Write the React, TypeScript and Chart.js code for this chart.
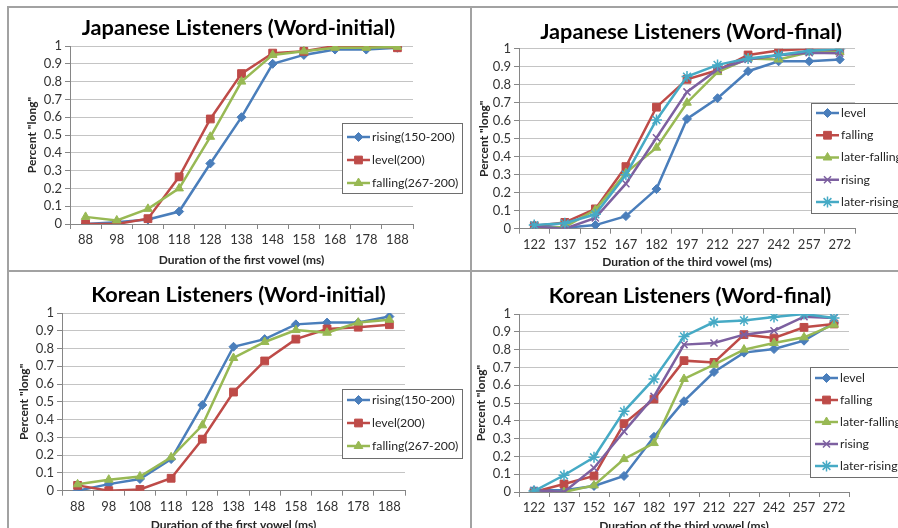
import React, { useEffect, useRef } from 'react';
import { Chart, registerables } from 'chart.js';
import { drawPoint } from 'chart.js/helpers';

Chart.register(...registerables);

const FONT = "Lato, 'Open Sans', sans-serif";

// ---------- categories ----------
const firstVowelDurations = ['88', '98', '108', '118', '128', '138', '148', '158', '168', '178', '188'];
const thirdVowelDurations = ['122', '137', '152', '167', '182', '197', '212', '227', '242', '257', '272'];

// ---------- series names ----------
const initialSeriesNames = ['rising(150-200)', 'level(200)', 'falling(267-200)'];
const finalSeriesNames = ['level', 'falling', 'later-falling', 'rising', 'later-rising'];

// ---------- Japanese listeners, word-initial ----------
const jpInitRising = [0, 0.01, 0.025, 0.07, 0.34, 0.6, 0.9, 0.95, 0.98, 0.98, 0.99];
const jpInitLevel = [0, 0, 0.03, 0.265, 0.59, 0.845, 0.96, 0.97, 1, 1, 0.99];
const jpInitFalling = [0.04, 0.02, 0.085, 0.2, 0.49, 0.8, 0.95, 0.97, 0.99, 0.99, 0.995];

// ---------- Japanese listeners, word-final ----------
const jpFinalLevel = [0.02, 0.005, 0.02, 0.07, 0.22, 0.61, 0.725, 0.875, 0.93, 0.93, 0.94];
const jpFinalFalling = [0.015, 0.035, 0.11, 0.345, 0.675, 0.83, 0.88, 0.965, 0.99, 1.0, 0.99];
const jpFinalLaterFalling = [0, 0.01, 0.105, 0.31, 0.45, 0.7, 0.87, 0.945, 0.94, 0.98, 0.98];
const jpFinalRising = [0.01, 0, 0.06, 0.25, 0.505, 0.76, 0.885, 0.94, 0.963, 0.978, 0.975];
const jpFinalLaterRising = [0.02, 0.03, 0.08, 0.3, 0.604, 0.845, 0.91, 0.946, 0.965, 0.988, 1.0];

// ---------- Korean listeners, word-initial ----------
const krInitRising = [0, 0.037, 0.066, 0.178, 0.482, 0.81, 0.853, 0.936, 0.946, 0.946, 0.98];
const krInitLevel = [0.03, 0, 0.007, 0.07, 0.29, 0.555, 0.73, 0.853, 0.91, 0.92, 0.934];
const krInitFalling = [0.036, 0.062, 0.08, 0.188, 0.368, 0.747, 0.837, 0.904, 0.889, 0.946, 0.962];

// ---------- Korean listeners, word-final ----------
const krFinalLevel = [0.01, 0.01, 0.034, 0.09, 0.31, 0.51, 0.674, 0.783, 0.803, 0.85, 0.95];
const krFinalFalling = [0, 0.045, 0.09, 0.384, 0.522, 0.738, 0.728, 0.884, 0.865, 0.925, 0.944];
const krFinalLaterFalling = [0, 0, 0.037, 0.185, 0.275, 0.635, 0.715, 0.8, 0.837, 0.869, 0.94];
const krFinalRising = [0.01, 0, 0.135, 0.34, 0.537, 0.828, 0.837, 0.884, 0.906, 0.985, 0.978];
const krFinalLaterRising = [0.005, 0.094, 0.195, 0.453, 0.635, 0.874, 0.955, 0.964, 0.983, 1.0, 0.978];

// ---------- axis texts ----------
const yAxisTitle = 'Percent "long"';
const xTitleFirst = 'Duration of the first vowel (ms)';
const xTitleThird = 'Duration of the third vowel (ms)';

// ---------- styles ----------
const BLUE = { color: '#4A7EBB', marker: 'rectRot', radius: 4.5, bw: 1 };
const RED = { color: '#BE4B48', marker: 'rect', radius: 5.5, bw: 1 };
const GREEN = { color: '#98B954', marker: 'triangle', radius: 5, bw: 1 };
const PURPLE = { color: '#7D60A0', marker: 'crossRot', radius: 5, bw: 1.5 };
const CYAN = { color: '#46AAC5', marker: 'star', radius: 5.5, bw: 1.5 };

const initialStyles = [BLUE, RED, GREEN];
const finalStyles = [BLUE, RED, GREEN, PURPLE, CYAN];

const panels = [
  {
    key: 'jpInit',
    title: 'Japanese Listeners (Word-initial)',
    xTitle: xTitleFirst,
    labels: firstVowelDurations,
    names: initialSeriesNames,
    values: [jpInitRising, jpInitLevel, jpInitFalling],
    styles: initialStyles,
    box: { x: 9, y: 8, w: 459, h: 262 },
    area: { l: 70, r: 413, t: 46, b: 224 },
    titleY: 28, xTitleY: 260, yTitleX: 32,
    legend: { x: 342, y: 123, w: 120, h: 70, first: 14, gap: 23 },
  },
  {
    key: 'jpFinal',
    title: 'Japanese Listeners (Word-final)',
    xTitle: xTitleThird,
    labels: thirdVowelDurations,
    names: finalSeriesNames,
    values: [jpFinalLevel, jpFinalFalling, jpFinalLaterFalling, jpFinalRising, jpFinalLaterRising],
    styles: finalStyles,
    box: { x: 472, y: 8, w: 438, h: 262 },
    area: { l: 519, r: 855, t: 48.7, b: 228.7 },
    titleY: 32, xTitleY: 262, yTitleX: 484,
    legend: { x: 811, y: 103, w: 100, h: 110, first: 10, gap: 22.25 },
  },
  {
    key: 'krInit',
    title: 'Korean Listeners (Word-initial)',
    xTitle: xTitleFirst,
    labels: firstVowelDurations,
    names: initialSeriesNames,
    values: [krInitRising, krInitLevel, krInitFalling],
    styles: initialStyles,
    box: { x: 9, y: 272, w: 459, h: 262 },
    area: { l: 62, r: 405, t: 313, b: 490.7 },
    titleY: 295, xTitleY: 525, yTitleX: 24,
    legend: { x: 342, y: 389, w: 120, h: 69, first: 11, gap: 23 },
  },
  {
    key: 'krFinal',
    title: 'Korean Listeners (Word-final)',
    xTitle: xTitleThird,
    labels: thirdVowelDurations,
    names: finalSeriesNames,
    values: [krFinalLevel, krFinalFalling, krFinalLaterFalling, krFinalRising, krFinalLaterRising],
    styles: finalStyles,
    box: { x: 472, y: 272, w: 436, h: 262 },
    area: { l: 519, r: 849, t: 314, b: 492 },
    titleY: 296, xTitleY: 526, yTitleX: 481,
    legend: { x: 810, y: 367, w: 100, h: 110, first: 11, gap: 22 },
  },
];

function makeLegendPlugin(p: any) {
  return {
    id: 'boxLegend_' + p.key,
    afterDraw(chart: any) {
      const ctx = chart.ctx;
      const lx = p.legend.x - p.box.x;
      const ly = p.legend.y - p.box.y;
      ctx.save();
      ctx.fillStyle = '#ffffff';
      ctx.fillRect(lx, ly, p.legend.w, p.legend.h);
      ctx.strokeStyle = '#6e6e6e';
      ctx.lineWidth = 1;
      ctx.strokeRect(Math.round(lx) + 0.5, Math.round(ly) + 0.5, p.legend.w, p.legend.h);
      chart.data.datasets.forEach((ds: any, i: number) => {
        const ry = ly + p.legend.first + i * p.legend.gap;
        const x0 = lx + 5;
        const x1 = lx + 28;
        ctx.strokeStyle = ds.borderColor;
        ctx.lineWidth = 2.5;
        ctx.beginPath();
        ctx.moveTo(x0, ry);
        ctx.lineTo(x1, ry);
        ctx.stroke();
        ctx.fillStyle = ds.pointBackgroundColor;
        ctx.strokeStyle = ds.pointBorderColor;
        ctx.lineWidth = ds.pointBorderWidth;
        drawPoint(ctx, { pointStyle: ds.pointStyle, radius: ds.pointRadius, borderWidth: ds.pointBorderWidth, rotation: 0 }, (x0 + x1) / 2, ry);
        ctx.fillStyle = '#262626';
        ctx.font = `12.3px ${FONT}`;
        ctx.textAlign = 'left';
        ctx.textBaseline = 'middle';
        ctx.fillText(ds.label, x1 + 2, ry);
      });
      ctx.restore();
    },
  };
}

function Panel({ p }: { p: any }) {
  const ref = useRef<HTMLCanvasElement | null>(null);
  useEffect(() => {
    const { x: cx, y: cy, w: W, h: H } = p.box;
    const titleSize = 21.7;
    const titleLH = titleSize * 1.2;
    const tTop = p.titleY - cy - titleLH / 2;
    const tBot = p.area.t - cy - tTop - titleLH;
    const axisTitleSize = 12;
    const axisLH = axisTitleSize * 1.2;
    const yAxisWidth = p.area.l - cx;
    const rightWidth = cx + W - p.area.r;
    const xAxisHeight = H - (p.area.b - cy);
    const yTitlePad = p.yTitleX - cx - axisLH / 2;
    const xTitlePad = H - (p.xTitleY - cy) - axisLH / 2;
    const n = p.values.length;

    const chart = new Chart(ref.current as HTMLCanvasElement, {
      type: 'line',
      data: {
        labels: p.labels,
        datasets: p.values.map((vals: number[], i: number) => {
          const s = p.styles[i];
          return {
            label: p.names[i],
            data: vals,
            borderColor: s.color,
            backgroundColor: s.color,
            pointBackgroundColor: s.color,
            pointBorderColor: s.color,
            pointStyle: s.marker,
            pointRadius: s.radius,
            pointBorderWidth: s.bw,
            borderWidth: 2.5,
            tension: 0,
            fill: false,
            order: n - i,
          };
        }),
      },
      options: {
        responsive: false,
        animation: false,
        layout: { padding: 0 },
        plugins: {
          legend: { display: false },
          tooltip: { enabled: false },
          title: {
            display: true,
            text: p.title,
            color: '#000000',
            font: { family: FONT, size: titleSize, weight: 'bold', lineHeight: 1.2 },
            padding: { top: tTop, bottom: tBot },
          },
        },
        scales: {
          x: {
            type: 'category',
            offset: true,
            grid: {
              drawOnChartArea: false,
              drawTicks: true,
              tickLength: 5,
              tickColor: '#868686',
              offset: true,
            },
            border: { color: '#868686', width: 1 },
            ticks: {
              color: '#333333',
              font: { family: FONT, size: 13 },
              padding: 3.5,
              maxRotation: 0,
              autoSkip: false,
            },
            title: {
              display: true,
              text: p.xTitle,
              color: '#262626',
              font: { family: FONT, size: axisTitleSize, weight: 'bold', lineHeight: 1.2 },
              padding: { top: 0, bottom: xTitlePad },
            },
            afterFit: (s: any) => { s.height = xAxisHeight; },
          },
          y: {
            type: 'linear',
            min: 0,
            max: 1,
            grid: {
              color: '#c4c4c4',
              drawTicks: true,
              tickLength: 5,
              tickColor: '#868686',
            },
            border: { color: '#868686', width: 1 },
            ticks: {
              stepSize: 0.1,
              autoSkip: false,
              maxTicksLimit: 20,
              color: '#333333',
              font: { family: FONT, size: 13 },
              padding: 3,
              callback: (v: any) => String(Math.round(Number(v) * 10) / 10),
            },
            title: {
              display: true,
              text: yAxisTitle,
              color: '#262626',
              font: { family: FONT, size: axisTitleSize, weight: 'bold', lineHeight: 1.2 },
              padding: { top: yTitlePad, bottom: 0 },
            },
            afterFit: (s: any) => { s.width = yAxisWidth; },
          },
          yPad: {
            type: 'linear',
            position: 'right',
            display: true,
            min: 0,
            max: 1,
            grid: { display: false, drawTicks: false },
            border: { display: false },
            ticks: { display: false },
            afterFit: (s: any) => { s.width = rightWidth; },
          },
        },
      } as any,
      plugins: [makeLegendPlugin(p)],
    });
    return () => chart.destroy();
  }, [p]);
  return (
    <canvas
      ref={ref}
      width={p.box.w}
      height={p.box.h}
      style={{ position: 'absolute', left: p.box.x, top: p.box.y, width: p.box.w, height: p.box.h }}
    />
  );
}

const LINE = '#a2a2a2';

export default function App() {
  return (
    <div style={{ position: 'absolute', left: 0, top: 0, width: 898, height: 528, overflow: 'hidden', background: '#ffffff' }}>
      {panels.map((p) => (
        <Panel key={p.key} p={p} />
      ))}
      <div style={{ position: 'absolute', left: 7, top: 6, width: 891, height: 2, background: LINE }} />
      <div style={{ position: 'absolute', left: 7, top: 270, width: 891, height: 2, background: LINE }} />
      <div style={{ position: 'absolute', left: 7, top: 6, width: 2, height: 522, background: LINE }} />
      <div style={{ position: 'absolute', left: 470, top: 6, width: 2, height: 522, background: LINE }} />
    </div>
  );
}
